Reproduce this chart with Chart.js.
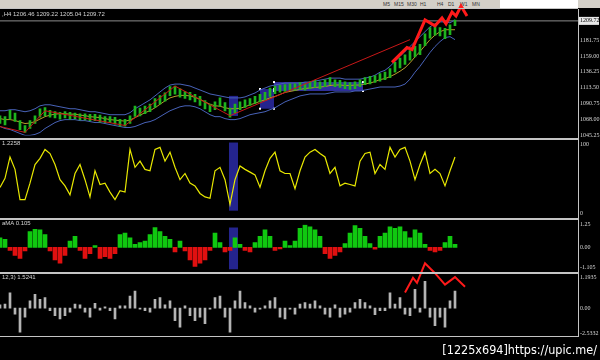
<!DOCTYPE html>
<html>
<head>
<meta charset="utf-8">
<script src="https://cdn.jsdelivr.net/npm/chart.js@4.4.1/dist/chart.umd.min.js"></script>
<style>
  html, body { margin: 0; padding: 0; background: #000; }
  #wrap { position: relative; width: 600px; height: 360px; overflow: hidden; background: #000;
          font-family: 'Liberation Sans Narrow', 'Liberation Sans', sans-serif; }
  canvas { position: absolute; left: 0; }
  .sep { position: absolute; left: 0; width: 578px; background: #c4c4c4; }
  .vline { position: absolute; left: 578px; top: 9px; width: 1px; height: 328px; background: #c4c4c4; }
  .title { position: absolute; left: 2px; font-size: 6px; color: #d4d4d4; white-space: nowrap; }
  #toolbar { position: absolute; left: 0; top: 0; width: 600px; height: 8px; background: #d4d0c8; }
  #toolbar span { position: absolute; top: 1px; font-size: 5px; color: #333; }
  #field { position: absolute; left: 500px; top: 0; width: 78px; height: 8px; background: #fff; }
  #mark { position: absolute; right: 3px; top: 342px; font-family: 'DejaVu Sans Condensed', 'DejaVu Sans', sans-serif;
          font-size: 12.5px; color: #fff; white-space: nowrap; }
</style>
</head>
<body>
<div id="wrap">
  <div id="toolbar">
    <span style="left:383px">M5</span><span style="left:394px">M15</span><span style="left:407px">M30</span>
    <span style="left:420px">H1</span><span style="left:437px">H4</span><span style="left:448px">D1</span>
    <span style="left:460px">W1</span><span style="left:472px">MN</span>
    <div id="field"></div>
  </div>
  <canvas id="main" width="600" height="141" style="top:0"></canvas>
  <canvas id="osc" width="600" height="80" style="top:139px"></canvas>
  <canvas id="hist" width="600" height="54" style="top:219px"></canvas>
  <canvas id="vol" width="600" height="84" style="top:255px"></canvas>
  <div class="sep" style="top:8px;height:1px"></div>
  <div class="sep" style="top:138px;height:2px"></div>
  <div class="sep" style="top:218px;height:2px"></div>
  <div class="sep" style="top:272px;height:2px"></div>
  <div class="sep" style="top:336px;height:1px"></div>
  <div class="vline"></div>
  <div class="title" style="top:11px">,H4 1206.46 1209.22 1205.04 1209.72</div>
  <div class="title" style="top:140px">1.2258</div>
  <div class="title" style="top:220px">aMA 0.105</div>
  <div class="title" style="top:274px">12,3) 1.5241</div>
  <div id="mark">[1225x694]https://upic.me/</div>
</div>
<script>
// price bars, low/high
const candles = [
  [1062,1073],[1060,1072],[1068,1081],[1065,1077],[1053,1066],[1049,1059],[1055,1066],[1062,1073],[1071,1083],[1073,1085],
  [1071,1081],[1070,1079],[1068,1078],[1070,1079],[1068,1078],[1069,1077],[1067,1076],[1067,1076],[1066,1075],[1066,1075],
  [1064,1074],[1063,1072],[1063,1072],[1061,1071],[1058,1068],[1058,1068],[1062,1073],[1072,1087],[1073,1084],[1076,1087],
  [1079,1090],[1085,1098],[1090,1102],[1094,1106],[1102,1115],[1104,1116],[1100,1112],[1098,1108],[1096,1107],[1093,1104],
  [1088,1101],[1083,1095],[1079,1090],[1082,1093],[1087,1099],[1080,1092],[1071,1084],[1077,1090],[1082,1093],[1085,1096],
  [1088,1098],[1091,1101],[1093,1104],[1096,1107],[1101,1113],[1105,1116],[1107,1117],[1108,1118],[1110,1119],[1110,1119],
  [1111,1121],[1110,1119],[1112,1122],[1114,1124],[1112,1122],[1115,1125],[1118,1128],[1115,1125],[1114,1124],[1112,1122],
  [1111,1121],[1112,1122],[1115,1125],[1118,1128],[1119,1130],[1121,1131],[1123,1134],[1125,1136],[1128,1141],[1136,1150],
  [1142,1156],[1147,1161],[1153,1167],[1158,1173],[1161,1176],[1174,1191],[1185,1200],[1189,1202],[1188,1200],[1184,1199],
  [1190,1204],[1203,1211]
];
const bandUpper = [
  1080.3,1080.3,1081.8,1081.8,1080.3,1078.9,1080.3,1083.2,1087.4,1088.9,
  1088.9,1087.4,1086.0,1084.6,1083.2,1083.2,1081.8,1080.3,1078.9,1078.9,
  1077.5,1076.1,1074.6,1074.6,1074.6,1074.6,1077.5,1083.2,1087.4,1091.7,
  1096.0,1101.7,1107.4,1113.0,1117.3,1118.7,1118.7,1117.3,1115.9,1113.0,
  1110.2,1107.4,1104.5,1103.1,1101.7,1100.2,1098.8,1098.8,1098.8,1100.2,
  1103.1,1105.9,1110.2,1113.0,1115.9,1117.3,1118.7,1120.2,1120.2,1120.2,
  1120.2,1121.6,1121.6,1123.0,1124.4,1125.8,1127.3,1127.3,1127.3,1125.8,
  1125.8,1125.8,1125.8,1127.3,1128.7,1131.5,1135.8,1138.6,1144.3,1151.4,
  1158.5,1165.7,1172.8,1179.9,1187.0,1194.1,1201.2,1205.5,1208.3,1208.3,
  1206.9,1211.2
];
const bandLower = [
  1057.6,1054.7,1053.3,1050.5,1047.6,1044.8,1044.8,1046.2,1049.1,1054.7,
  1059.0,1063.3,1066.1,1067.5,1067.5,1067.5,1066.1,1066.1,1064.7,1063.3,
  1063.3,1061.9,1060.4,1059.0,1057.6,1056.2,1056.2,1057.6,1060.4,1063.3,
  1064.7,1067.5,1071.8,1076.1,1080.3,1083.2,1086.0,1087.4,1087.4,1086.0,
  1083.2,1078.9,1074.6,1071.8,1071.8,1069.0,1067.5,1067.5,1069.0,1071.8,
  1074.6,1076.1,1077.5,1078.9,1081.8,1084.6,1088.9,1093.1,1096.0,1098.8,
  1101.7,1103.1,1104.5,1104.5,1104.5,1104.5,1105.9,1107.4,1107.4,1107.4,
  1107.4,1108.8,1108.8,1110.2,1111.6,1113.0,1114.5,1114.5,1114.5,1114.5,
  1115.9,1118.7,1125.8,1135.8,1144.3,1154.3,1164.2,1172.8,1179.9,1185.6,
  1187.0,1182.7
];
const maLine = [
  1069.0,1067.5,1067.6,1066.2,1064.0,1061.9,1062.6,1064.7,1068.3,1071.8,
  1074.0,1075.4,1076.1,1076.1,1075.4,1075.4,1074.0,1073.2,1071.8,1071.1,
  1070.4,1069.0,1067.5,1066.8,1066.1,1065.4,1066.9,1070.4,1073.9,1077.5,
  1080.4,1084.6,1089.6,1094.6,1098.8,1101.0,1102.4,1102.4,1101.7,1099.5,
  1096.7,1093.2,1089.6,1087.5,1086.8,1084.6,1083.2,1083.2,1083.9,1086.0,
  1088.9,1091.0,1093.9,1096.0,1098.9,1101.0,1103.8,1106.7,1108.1,1109.5,
  1111.0,1112.4,1113.1,1113.8,1114.5,1115.2,1116.6,1117.4,1117.4,1116.6,
  1116.6,1117.3,1117.3,1118.8,1120.2,1122.3,1125.2,1126.6,1129.4,1133.0,
  1137.2,1142.2,1149.3,1157.9,1165.7,1174.2,1182.7,1189.2,1194.1,1197.0,
  1197.0,1197.0
];
const zigzag = [[0,1057.6],[5,1049.1],[9,1080.3],[25,1059.0],[35,1115.9],[46,1073.2],[82,1182.7]];
const arrowMain = [[78.4,1150.0],[81.4,1171.3],[82.4,1168.5],[85,1211.2],[87,1202.6],[88.4,1214.0],
                   [89.2,1205.5],[90.4,1222.5],[91.2,1216.8],[92.2,1231.1],[93.4,1216.8]];
const bidPrice = 1209.72;
const priceTicks = [1045.25, 1068.00, 1090.75, 1113.50, 1136.25, 1159.00, 1181.75];
const boxesMain = [[45.8,47.6,1072.8,1101.7],[52,54.8,1083.2,1111.6],[54.8,72.6,1108.8,1121.6]];

const oscValues = [
  37.8,51,82,64,20,20,44,71,80,93,
  87,71,49,40,27,58,71,49,24,62,
  42,44,31,20,33,31,93,67,76,64,
  62,93,96,76,89,67,49,58,44,40,
  29,24,22,62,67,49,13,49,69,64,
  60,56,38,62,80,89,62,58,58,36,
  62,82,89,93,87,82,58,67,40,44,
  42,40,76,87,89,58,71,64,96,82,
  93,96,76,49,71,89,58,64,58,40,
  62,82
];
const oscTicks = [0, 100];
const boxesOsc = [[45.8,47.6,4,103]];

const histValues = [
  0.52,0.44,-0.17,-0.44,-0.61,-0.20,0.87,0.99,0.96,0.70,
  -0.20,-0.70,-0.87,-0.44,0.35,0.61,-0.17,-0.61,-0.35,0.09,
  -0.61,-0.52,-0.61,-0.35,0.70,0.78,0.52,0.17,0.26,0.35,
  0.70,1.08,0.87,0.61,0.44,-0.26,0.35,-0.20,-0.70,-1.05,
  -0.87,-0.70,-0.17,0.78,0.26,-0.26,-0.17,0.52,0.17,-0.17,
  -0.26,0.26,0.61,0.96,0.61,-0.17,-0.09,0.35,0.09,0.35,
  1.05,1.22,1.13,0.96,0.61,-0.35,-0.61,-0.44,-0.26,0.20,
  0.78,1.20,1.05,0.61,0.20,-0.10,0.61,0.78,1.13,1.05,
  1.13,0.87,0.52,0.96,0.78,0.17,-0.17,-0.26,-0.17,0.26,
  0.61,0.17
];
const histTicks = [-1.105, 0, 1.25];
const boxesHist = [[45.8,47.6,-1.21,1.09]];

const volValues = [
  0.13,0.15,0.59,-0.23,-0.92,-0.35,0.28,0.53,0.34,0.40,
  -0.10,-0.29,-0.41,-0.29,-0.16,0.15,0.13,-0.16,-0.35,0.18,
  -0.08,0.05,-0.10,-0.41,0.09,0.09,0.46,0.65,-0.04,-0.10,
  -0.16,0.34,0.40,0.13,0.28,-0.48,-0.73,0.09,-0.29,-0.48,
  -0.35,-0.60,-0.04,0.40,0.46,-0.35,-0.92,0.28,0.65,0.21,
  0.09,-0.16,-0.04,0.09,0.28,0.40,-0.35,-0.41,-0.04,-0.23,
  0.15,0.21,0.15,0.28,0.09,-0.23,-0.35,0.13,-0.35,-0.23,
  -0.16,0.21,0.34,0.21,0.09,-0.25,-0.10,-0.10,0.59,0.15,
  0.40,-0.23,-0.29,0.72,-0.16,1.03,-0.35,-0.67,-0.35,-0.73,
  0.28,0.65
];
const volTickLabels = ['1.1935', '0.00', '-2.5332'];
const arrowVol = [[81,0.60],[82.6,1.16],[83.4,0.97],[85,1.72],[87,1.34],[89,0.90],[91,1.19],[93,0.82]];

const X_MAX = 115.6;
const pts = arr => arr.map((v, i) => ({ x: i, y: v }));
const xy = arr => arr.map(p => ({ x: p[0], y: p[1] }));

function boxPlugin(list, handles) {
  return {
    id: 'boxes',
    beforeDatasetsDraw(chart) {
      const { ctx, scales: { x, y } } = chart;
      ctx.save();
      list.forEach((b, k) => {
        const x0 = x.getPixelForValue(b[0]), x1 = x.getPixelForValue(b[1]);
        const y0 = y.getPixelForValue(b[3]), y1 = y.getPixelForValue(b[2]);
        ctx.fillStyle = k === 2 ? 'rgba(52,52,172,0.92)' : 'rgba(38,38,150,0.95)';
        ctx.fillRect(x0, y0, x1 - x0, y1 - y0);
        if (handles && handles.includes(k)) {
          ctx.fillStyle = '#ffffff';
          [[x0, y0], [x1, y0], [x0, y1], [x1, y1]].forEach(p => ctx.fillRect(p[0] - 1, p[1] - 1, 2, 2));
        }
      });
      ctx.restore();
    }
  };
}

function xScale() {
  return { type: 'linear', min: 0, max: X_MAX, display: false, offset: false };
}
function yScale(min, max, ticks, labelFn) {
  return {
    position: 'right', min: min, max: max,
    afterFit: s => { s.width = 22; },
    afterBuildTicks: s => { s.ticks = ticks.map(v => ({ value: v })); },
    grid: { display: false, drawTicks: false },
    border: { display: false },
    ticks: {
      color: '#d8d8d8', padding: 2, autoSkip: false, maxRotation: 0,
      font: { family: 'Liberation Sans Narrow', size: 6 },
      callback: labelFn
    }
  };
}
const base = {
  responsive: false, animation: false,
  plugins: { legend: { display: false }, tooltip: { enabled: false } }
};

// bid price label on the right axis
const bidLabel = {
  id: 'bidLabel',
  afterDraw(chart) {
    const { ctx, scales: { y }, chartArea } = chart;
    const py = y.getPixelForValue(bidPrice);
    ctx.save();
    ctx.fillStyle = '#e8e8e8';
    ctx.fillRect(chartArea.right + 1, py - 4, 20, 8);
    ctx.fillStyle = '#000';
    ctx.font = '6px "Liberation Sans Narrow"';
    ctx.textBaseline = 'middle';
    ctx.fillText(bidPrice.toFixed(2), chartArea.right + 2, py);
    ctx.restore();
  }
};

new Chart(document.getElementById('main'), {
  type: 'bar',
  data: {
    datasets: [
      { type: 'line', data: xy(arrowMain), borderColor: '#ff1a1a', borderWidth: 3, pointRadius: 0, clip: false, order: 0 },
      { type: 'line', data: xy(zigzag), borderColor: '#c81818', borderWidth: 1, pointRadius: 0, order: 1 },
      { type: 'bar', data: pts(candles), backgroundColor: '#1eb41e', barThickness: 2, order: 2 },
      { type: 'line', data: pts(maLine), borderColor: '#b89c2a', borderWidth: 1, pointRadius: 0, order: 3 },
      { type: 'line', data: pts(bandUpper), borderColor: '#4862b8', borderWidth: 1, pointRadius: 0, order: 4 },
      { type: 'line', data: pts(bandLower), borderColor: '#4862b8', borderWidth: 1, pointRadius: 0, order: 5 },
      { type: 'line', data: [{ x: 0, y: bidPrice }, { x: X_MAX, y: bidPrice }], borderColor: '#8c8c8c', borderWidth: 1, pointRadius: 0, order: 6 }
    ]
  },
  options: Object.assign({}, base, {
    layout: { padding: { top: 10, bottom: 4, left: 0, right: 0 } },
    scales: { x: xScale(), y: yScale(1044.8, 1225.4, priceTicks, v => v.toFixed(2)) }
  }),
  plugins: [boxPlugin(boxesMain, [1, 2]), bidLabel]
});

new Chart(document.getElementById('osc'), {
  type: 'line',
  data: {
    datasets: [
      { data: pts(oscValues), borderColor: '#e8e800', borderWidth: 1.2, pointRadius: 0 }
    ]
  },
  options: Object.assign({}, base, {
    layout: { padding: { top: 4, bottom: 1, left: 0, right: 0 } },
    scales: { x: xScale(), y: yScale(0, 100, oscTicks, v => String(v)) }
  }),
  plugins: [boxPlugin(boxesOsc)]
});

new Chart(document.getElementById('hist'), {
  type: 'bar',
  data: {
    datasets: [
      { data: pts(histValues), barThickness: 4,
        backgroundColor: c => (c.raw && c.raw.y < 0 ? '#e01010' : '#10c810') }
    ]
  },
  options: Object.assign({}, base, {
    layout: { padding: { top: 5, bottom: 4, left: 0, right: 0 } },
    scales: { x: xScale(), y: yScale(-1.105, 1.25, histTicks, v => (v === 0 ? '0.00' : String(v))) }
  }),
  plugins: [boxPlugin(boxesHist)]
});

new Chart(document.getElementById('vol'), {
  type: 'bar',
  data: {
    datasets: [
      { type: 'line', data: xy(arrowVol), borderColor: '#ff1a1a', borderWidth: 2, pointRadius: 0, clip: false, order: 0 },
      { type: 'bar', data: pts(volValues), backgroundColor: '#b4b4b4', barThickness: 2, order: 1 }
    ]
  },
  options: Object.assign({}, base, {
    layout: { padding: { top: 22, bottom: 4, left: 0, right: 0 } },
    scales: { x: xScale(), y: yScale(-0.97, 1.1935, [1.1935, 0, -0.97], (v, i) => volTickLabels[i]) }
  })
});
</script>
</body>
</html>
